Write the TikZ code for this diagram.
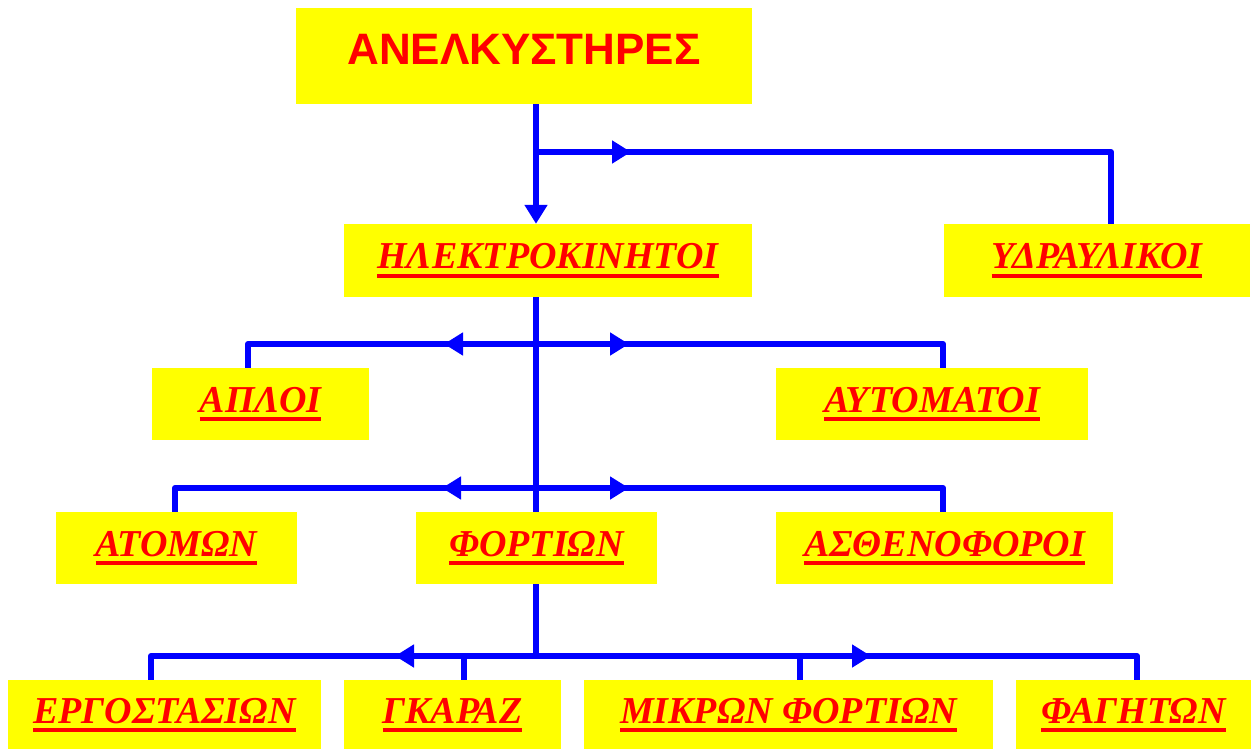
\documentclass[tikz,border=0pt]{standalone}
\usepackage{fontspec}
\usetikzlibrary{arrows.meta,decorations.markings}
\newfontfamily\lblfam{Liberation Serif}
\newfontfamily\topfam{Liberation Sans}
\definecolor{boxyellow}{RGB}{255,255,0}
\definecolor{txtred}{RGB}{255,0,0}
\definecolor{lineblue}{RGB}{0,0,255}
\newsavebox\myulbox
\newcommand\myul[1]{\sbox\myulbox{#1}\rlap{\rule[-9pt]{\wd\myulbox}{4pt}}\usebox\myulbox}
\tikzset{
  tri/.tip={Triangle[length=19pt 0 0,width=22pt 0 0]},
  lbox/.style={fill=boxyellow,inner sep=0pt,text=txtred,
    font={\lblfam\bfseries\itshape\fontsize{38}{40}\selectfont}},
  topbox/.style={fill=boxyellow,inner sep=0pt},
  toptext/.style={inner sep=0pt,text=txtred,
    font={\topfam\bfseries\fontsize{44}{46}\selectfont}},
  wire/.style={draw=lineblue,line width=6pt,line join=round},
  midarrow/.style={postaction={decorate},
    decoration={markings,mark=at position #1 with {\arrow{tri}}}},
}
\begin{document}
\begin{tikzpicture}[x=1pt,y=-1pt]
\useasboundingbox (0,0) rectangle (1251,749);
% boxes
\node[topbox,minimum width=456pt,minimum height=96pt] (top) at (524,56) {};
\node[toptext] (toptxt) at (524,49) {ΑΝΕΛΚΥΣΤΗΡΕΣ};
\node[lbox,minimum width=408pt,minimum height=73pt] (el) at (548,260.5) {\myul{ΗΛΕΚΤΡΟΚΙΝΗΤΟΙ}};
\node[lbox,minimum width=306pt,minimum height=73pt] (yd) at (1097,260.5) {\myul{ΥΔΡΑΥΛΙΚΟΙ}};
\node[lbox,minimum width=217pt,minimum height=72pt] (apl) at (260.5,404) {\myul{ΑΠΛΟΙ}};
\node[lbox,minimum width=312pt,minimum height=72pt] (aut) at (932,404) {\myul{ΑΥΤΟΜΑΤΟΙ}};
\node[lbox,minimum width=241pt,minimum height=72pt] (atom) at (176.5,548) {\myul{ΑΤΟΜΩΝ}};
\node[lbox,minimum width=241pt,minimum height=72pt] (fort) at (536.5,548) {\myul{ΦΟΡΤΙΩΝ}};
\node[lbox,minimum width=337pt,minimum height=72pt] (asth) at (944.5,548) {\myul{ΑΣΘΕΝΟΦΟΡΟΙ}};
\node[lbox,minimum width=313pt,minimum height=70pt] (erg) at (164.5,715) {\myul{ΕΡΓΟΣΤΑΣΙΩΝ}};
\node[lbox,minimum width=217pt,minimum height=70pt] (gar) at (452.5,715) {\myul{ΓΚΑΡΑΖ}};
\node[lbox,minimum width=409pt,minimum height=70pt] (mik) at (788.5,715) {\myul{ΜΙΚΡΩΝ ΦΟΡΤΙΩΝ}};
\node[lbox,minimum width=235pt,minimum height=70pt] (fag) at (1133.5,715) {\myul{ΦΑΓΗΤΩΝ}};
% junction coordinates
\coordinate (c) at (536,0);
\coordinate (j1) at (536,152);
\coordinate (j2) at (536,344);
\coordinate (j3) at (536,488);
\coordinate (j4) at (536,656);
% connectors
\draw[wire,-tri] (c |- top.south) -- (c |- el.north);
\draw[wire,midarrow=95pt] (j1) -| ([xshift=14pt]yd.north);
\draw[wire] (c |- el.south) -- (c |- fort.north);
\draw[wire,midarrow=92pt] (j2) -| ([xshift=-12.5pt]apl.north);
\draw[wire,midarrow=93pt] (j2) -| ([xshift=11pt]aut.north);
\draw[wire,midarrow=94pt] (j3) -| ([xshift=-1.5pt]atom.north);
\draw[wire,midarrow=93pt] (j3) -| ([xshift=-1.5pt]asth.north);
\draw[wire] (c |- fort.south) -- (j4);
\draw[wire,midarrow=141pt] (j4) -| ([xshift=-13.5pt]erg.north);
\draw[wire] (j4) -| ([xshift=11.5pt]gar.north);
\draw[wire] (j4) -| ([xshift=11.5pt]mik.north);
\draw[wire,midarrow=335pt] (j4) -| ([xshift=3.5pt]fag.north);
\end{tikzpicture}
\end{document}
